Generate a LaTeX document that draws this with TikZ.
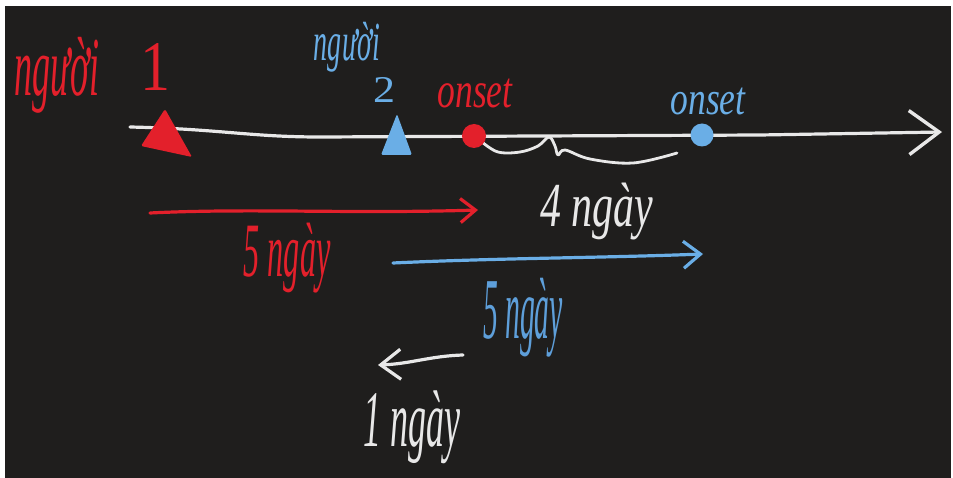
\documentclass[tikz,border=0pt]{standalone}
\usepackage{fontspec}
\usepackage{graphicx}
\setmainfont{Liberation Serif}
\usetikzlibrary{arrows.meta}
\definecolor{bgdark}{HTML}{1F1E1D}
\definecolor{penred}{HTML}{E3202B}
\definecolor{penblue}{HTML}{6AAEE6}
\definecolor{penbluetext}{HTML}{5E9FDA}
\definecolor{penwhite}{HTML}{E8E8E8}
\newcommand\hwtext[3]{\resizebox*{#1}{#2}{#3}}
\tikzset{
  hand/.style={inner sep=0pt, outer sep=0pt, anchor=center, font=\itshape},
  pen/.style={line width=3.2pt, line cap=round, line join=round},
  axisline/.style={pen, draw=penwhite, -{Straight Barb[length=30pt, width=44pt, line width=3.4pt]}},
  redarrow/.style={pen, draw=penred, -{Straight Barb[length=15pt, width=24pt, line width=3.2pt]}},
  bluearrow/.style={pen, draw=penblue, -{Straight Barb[length=17pt, width=27pt, line width=3.2pt]}},
  whitearrow/.style={pen, draw=penwhite, -{Straight Barb[length=20pt, width=30pt, line width=3.2pt]}},
}
\begin{document}
\begin{tikzpicture}[x=1pt, y=-1pt]
\useasboundingbox (0,0) rectangle (953,478);
\fill[white] (0,0) rectangle (953,478);
\fill[bgdark] (5,6) rectangle (951,478);

% coordinates
\coordinate (axstart) at (130,127);
\coordinate (axend) at (942,132);
\coordinate (redstart) at (150,213);
\coordinate (redend) at (478,210);
\coordinate (bluestart) at (393,263);
\coordinate (blueend) at (703,254);
\coordinate (wstart) at (463,355);
\coordinate (wend) at (378,365);

% main axis
\draw[axisline] (axstart) .. controls (220,129) and (250,137) .. (320,137) -- (760,135) -- (axend);

% brace-like squiggle
\draw[pen, draw=penwhite, line width=2.8pt] plot[smooth, tension=0.6] coordinates
  {(482,142) (498,152) (520,152) (538,146) (549,137) (555,146) (558,155) (565,150) (590,159) (633,163) (677,153)};

% markers
\fill[penred, rounded corners=1.5pt] (165,109) -- (141,146) -- (192,157) -- cycle;
\fill[penblue, rounded corners=1.5pt] (397,114) -- (381,155) -- (412,155) -- cycle;
\node[circle, fill=penred, minimum size=24pt, inner sep=0pt] (onsetred) at (474,136) {};
\node[circle, fill=penblue, minimum size=23pt, inner sep=0pt] (onsetblue) at (702,135) {};

% arrows
\draw[redarrow] (redstart) .. controls (250,208) and (350,214) .. (redend);
\draw[bluearrow] (bluestart) .. controls (500,258) and (600,258) .. (blueend);
\draw[whitearrow] (wstart) .. controls (430,356) and (410,364) .. (wend);

% labels
\node[hand, text=penred] (nguoi1) at (57,75) {\hwtext{85pt}{76pt}{người}};
\node[hand, text=penred] (one) at (155,67) {\hwtext{30pt}{47pt}{\upshape 1}};
\node[hand, text=penblue] (nguoi2) at (347,47) {\hwtext{66pt}{50pt}{người}};
\node[hand, text=penblue] (two) at (384,90) {\hwtext{22pt}{25pt}{\upshape 2}};
\node[hand, text=penred] (onsetlabr) at (475,93) {\hwtext{75pt}{29pt}{onset}};
\node[hand, text=penblue] (onsetlabb) at (708,101) {\hwtext{75pt}{27pt}{onset}};
\node[hand, text=penwhite] (four) at (597,212) {\hwtext{113pt}{57pt}{4 ngày}};
\node[hand, text=penred] (fivered) at (287,258) {\hwtext{87pt}{70pt}{5 ngày}};
\node[hand, text=penbluetext] (fiveblue) at (523,318) {\hwtext{80pt}{79pt}{5 ngày}};
\node[hand, text=penwhite] (oneday) at (412,427) {\hwtext{97pt}{73pt}{1 ngày}};
\end{tikzpicture}
\end{document}
